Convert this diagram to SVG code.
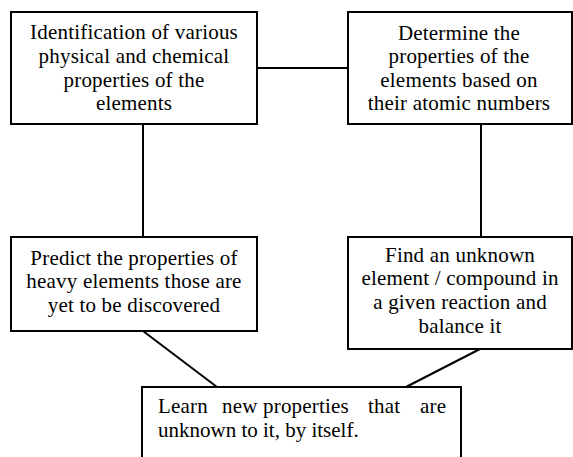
<svg xmlns="http://www.w3.org/2000/svg" width="573" height="457" viewBox="0 0 573 457">
<style>
.box{fill:#fff;stroke:#000;stroke-width:2}
.c{stroke:#000;stroke-width:2;fill:none}
</style>
<rect width="573" height="457" fill="#fff"/>
<g id="connectors">
<line class="c" x1="257" y1="68" x2="348" y2="68"/>
<line class="c" x1="143" y1="124" x2="143" y2="237"/>
<line class="c" x1="481" y1="124" x2="481" y2="237"/>
<line class="c" x1="143" y1="331" x2="217" y2="387"/>
<line class="c" x1="480" y1="349" x2="406" y2="387"/>
</g>
<g id="n1">
<rect class="box" x="11" y="12" width="246" height="112"/>
<text font-family="Liberation Serif" font-size="21" letter-spacing="0.2" text-anchor="middle" x="134" y="39">Identification of various</text>
<text font-family="Liberation Serif" font-size="21" letter-spacing="0.2" text-anchor="middle" x="134" y="63">physical and chemical</text>
<text font-family="Liberation Serif" font-size="21" letter-spacing="0.2" text-anchor="middle" x="134" y="87">properties of the</text>
<text font-family="Liberation Serif" font-size="21" letter-spacing="0.2" text-anchor="middle" x="134" y="110">elements</text>
</g>
<g id="n2">
<rect class="box" x="348" y="12" width="224" height="112"/>
<text font-family="Liberation Serif" font-size="21" letter-spacing="0.2" text-anchor="middle" x="459" y="40">Determine the</text>
<text font-family="Liberation Serif" font-size="21" letter-spacing="0.2" text-anchor="middle" x="459" y="63">properties of the</text>
<text font-family="Liberation Serif" font-size="21" letter-spacing="0.2" text-anchor="middle" x="459" y="87">elements based on</text>
<text font-family="Liberation Serif" font-size="21" letter-spacing="0.2" text-anchor="middle" x="459" y="110">their atomic numbers</text>
</g>
<g id="n3">
<rect class="box" x="11" y="237" width="246" height="94"/>
<text font-family="Liberation Serif" font-size="21" letter-spacing="0.2" text-anchor="middle" x="134" y="265">Predict the properties of</text>
<text font-family="Liberation Serif" font-size="21" letter-spacing="0.2" text-anchor="middle" x="134" y="288">heavy elements those are</text>
<text font-family="Liberation Serif" font-size="21" letter-spacing="0.2" text-anchor="middle" x="134" y="312">yet to be discovered</text>
</g>
<g id="n4">
<rect class="box" x="348" y="237" width="224" height="112"/>
<text font-family="Liberation Serif" font-size="21" letter-spacing="0.2" text-anchor="middle" x="460" y="262">Find an unknown</text>
<text font-family="Liberation Serif" font-size="21" letter-spacing="0.2" text-anchor="middle" x="460" y="285">element / compound in</text>
<text font-family="Liberation Serif" font-size="21" letter-spacing="0.2" text-anchor="middle" x="460" y="309">a given reaction and</text>
<text font-family="Liberation Serif" font-size="21" letter-spacing="0.2" text-anchor="middle" x="460" y="333">balance it</text>
</g>
<g id="n5">
<rect class="box" x="142" y="387" width="319" height="80"/>
<text font-family="Liberation Serif" font-size="21" letter-spacing="0.2" y="413"><tspan x="158">Learn</tspan><tspan x="222">new</tspan><tspan x="263">properties</tspan><tspan x="368">that</tspan><tspan x="420">are</tspan></text>
<text font-family="Liberation Serif" font-size="21" x="158" y="437">unknown to it, by itself.</text>
</g>
</svg>
